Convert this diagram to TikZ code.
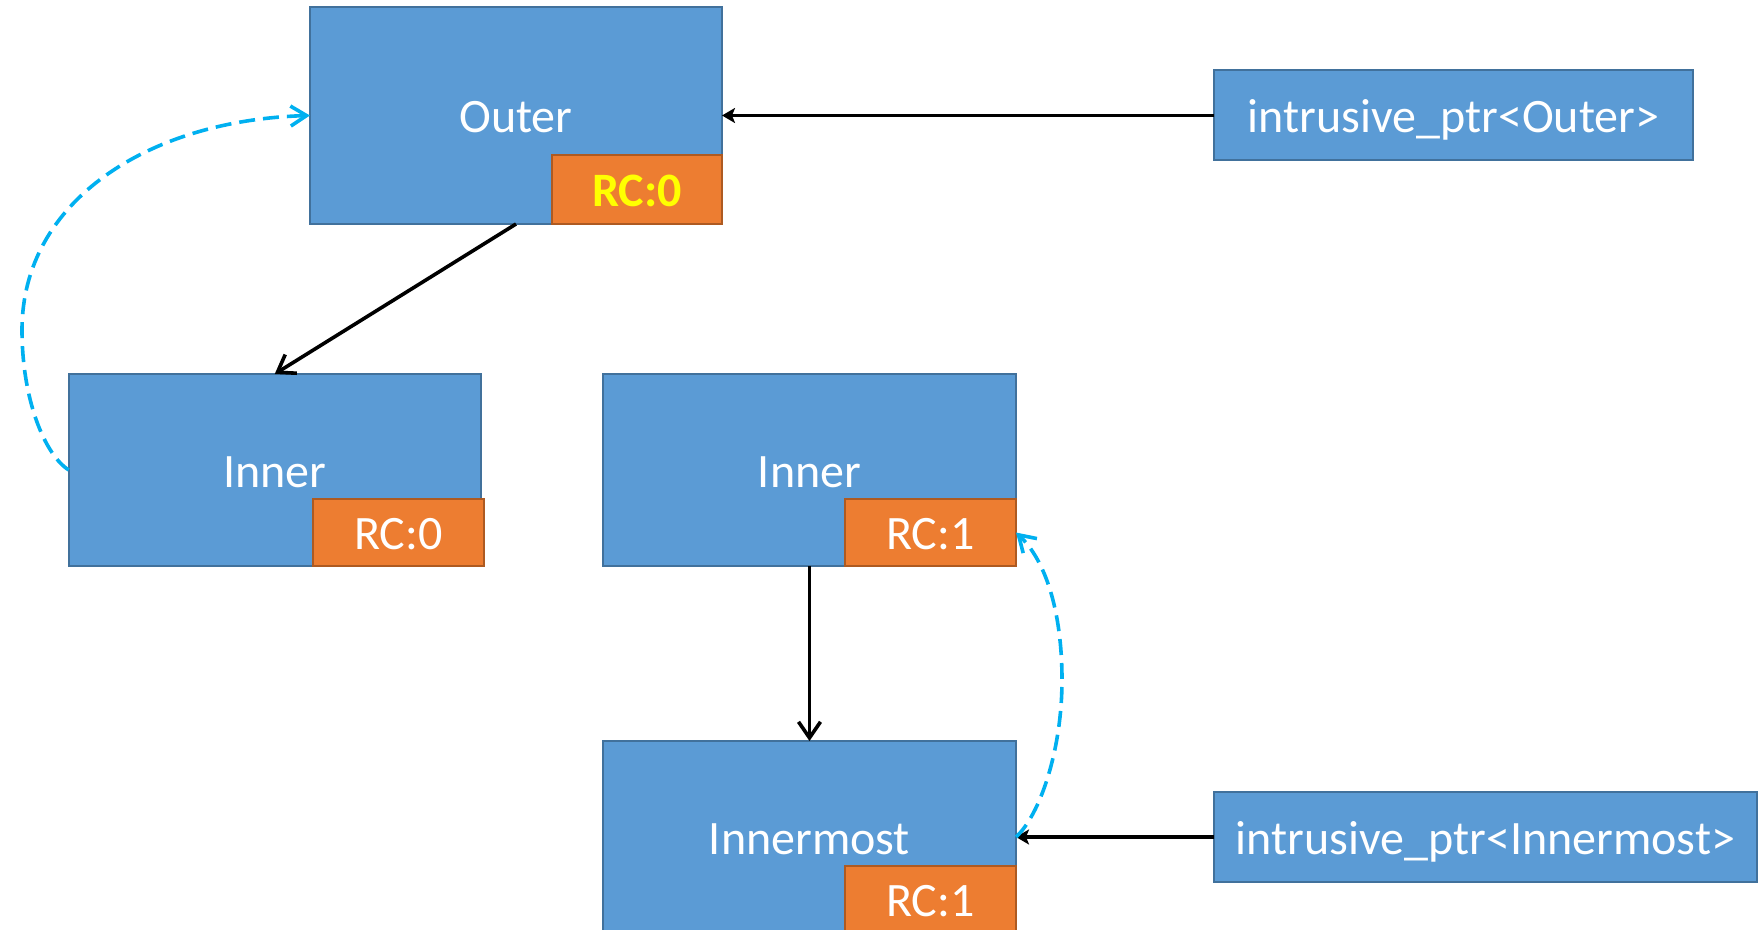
\documentclass[tikz,border=0pt]{standalone}
\usepackage{fontspec}
\setmainfont{Carlito}
\usetikzlibrary{arrows.meta}

\definecolor{boxblue}{HTML}{5B9BD5}
\definecolor{boxblueline}{HTML}{41719C}
\definecolor{rcorange}{HTML}{ED7D31}
\definecolor{rcorangeline}{HTML}{AE5A21}
\definecolor{refcyan}{HTML}{00B0F0}
\definecolor{hiyellow}{HTML}{FFFF00}

\begin{document}
\begin{tikzpicture}[x=0.5pt,y=-0.5pt,
  labeltext/.style={font=\fontsize{24}{28}\selectfont,
    text height=17.2pt, text depth=0pt},
  objbox/.style={labeltext, draw=boxblueline, fill=boxblue, line width=1pt,
    inner sep=0pt, outer sep=0pt, text=white,
    minimum width=206pt, minimum height=96pt},
  rcbox/.style={labeltext, draw=rcorangeline, fill=rcorange, line width=1pt,
    inner sep=0pt, outer sep=0pt, text=white,
    minimum width=85.5pt, minimum height=33.5pt, anchor=south east},
  ownarrow/.style={line width=1.8pt, black,
    -{Straight Barb[length=8pt,width=11pt]}},
  ptrarrow/.style={line width=1.9pt, black,
    -{Stealth[length=6.5pt,width=7.5pt,inset=1.5pt]}},
  backref/.style={line width=1.8pt, refcyan, dash pattern=on 8pt off 4pt,
    -{Straight Barb[length=8pt,width=10pt]}}
]
\useasboundingbox (0,0) rectangle (1763,930);

% object boxes
\node[objbox, minimum height=108.5pt] (outer) at (516,115.5) {Outer};
\node[objbox] (innerA) at (274.75,470) {Inner};
\node[objbox, minimum width=206.5pt] (innerB) at (809.5,470) {Inner};
\node[objbox, minimum width=206.5pt] (innermost) at (809.5,837) {Innermost};

% reference-count badges
\node[rcbox, minimum width=85pt, minimum height=34.5pt, text=hiyellow,
  font=\fontsize{24}{28}\selectfont\bfseries] (rcO) at (outer.south east) {RC:0};
\node[rcbox, xshift=1.5pt] (rcA) at (innerA.south east) {RC:0};
\node[rcbox] (rcB) at (innerB.south east) {RC:1};
\node[rcbox] (rcC) at (innermost.south east) {RC:1};

% smart pointers
\node[objbox, minimum width=239.5pt, minimum height=45pt] (ptrO) at (1453.5,115.5) {intrusive\_ptr<Outer>};
\node[objbox, minimum width=271.5pt, minimum height=45pt] (ptrI) at (1485.5,837) {intrusive\_ptr<Innermost>};

% ownership links
\draw[ownarrow] (outer.south) -- (innerA.north);
\draw[ownarrow] (innerB.south) -- (innermost.north);
\draw[ptrarrow] (ptrO.west) -- (outer.east);
\draw[ptrarrow] (ptrI.west) -- (innermost.east);

% back references
\draw[backref] (innerA.west) .. controls (45,455) and (22,400) .. (22,330)
  .. controls (22,200) and (150,120) .. (outer.west);
\draw[backref] (innermost.east) .. controls (1040,815) and (1062,750) .. (1062,680)
  .. controls (1062,610) and (1045,560) .. (rcB.east);
\end{tikzpicture}
\end{document}
